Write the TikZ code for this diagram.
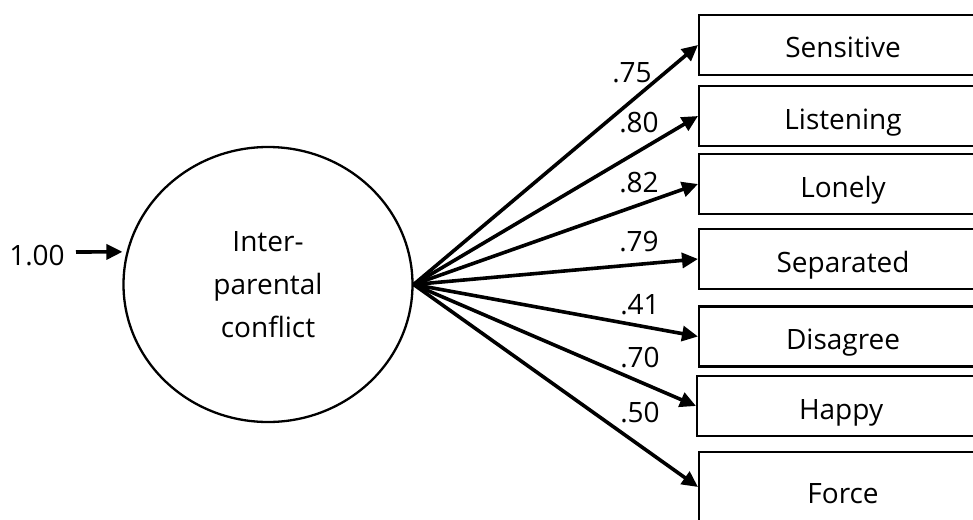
\documentclass[tikz,border=0pt]{standalone}
\usepackage{fontspec}
\setmainfont{Open Sans}
\usetikzlibrary{shapes.geometric,arrows.meta}
\begin{document}
\begin{tikzpicture}[x=1pt,y=-1pt,
  txt/.style={font=\fontsize{28}{43}\selectfont, inner sep=0pt},
  item/.style={txt, draw, line width=2.1pt, minimum width=288pt,
    minimum height=60pt, anchor=west, text height=26pt, text depth=0pt},
  latent/.style={txt, ellipse, draw, line width=2.3pt, minimum width=289pt,
    minimum height=275pt, align=center},
  load/.style={line width=3.6pt, -{Triangle[length=16pt,width=15pt]}},
]
\useasboundingbox (0,0) rectangle (973,519);
\clip (0,0) rectangle (973,519);

% latent factor
\node[latent] (lv) at (268,284.5) {Inter-\\parental\\conflict};

% variance of the factor
\node[txt] (var) at (37,256) {1.00};
\coordinate (vstart) at (76,252);
\draw[load, shorten >=4pt] (vstart) -- (lv.167);

% indicators
\node[item] (sen) at (698,45)    {Sensitive};
\node[item] (lis) at (698,116)   {Listening};
\node[item] (lon) at (698,184)   {Lonely};
\node[item] (sep) at (698,259)   {Separated};
\node[item] (dis) at (698,336.5) {Disagree};
\node[item] (hap) at (696,406)   {Happy};
\node[item, minimum height=76pt] (frc) at (698,490) {Force};

% factor loadings
\foreach \n in {sen,lis,lon,sep,dis,hap}
  \draw[load] (lv.east) -- (\n.west);
\draw[load] (lv.east) -- ([yshift=3pt]frc.west);

\node[txt] (l1) at (632,73)  {.75};
\node[txt] (l2) at (639,123) {.80};
\node[txt] (l3) at (639,183) {.82};
\node[txt] (l4) at (639,242) {.79};
\node[txt] (l5) at (640,305) {.41};
\node[txt] (l6) at (640,358) {.70};
\node[txt] (l7) at (640,413) {.50};
\end{tikzpicture}
\end{document}
